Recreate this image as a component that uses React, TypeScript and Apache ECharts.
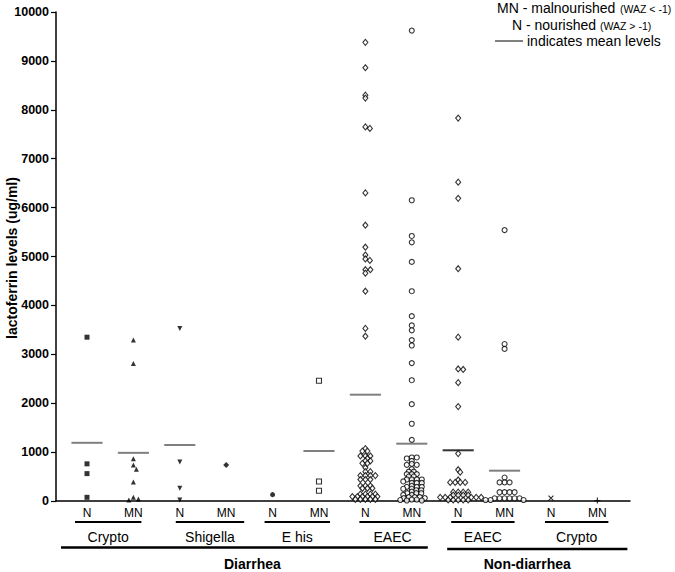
import React, { useEffect, useRef } from "react";
import * as echarts from "echarts";

// ---------- data ----------
const tickLabels = ["N", "MN", "N", "MN", "N", "MN", "N", "MN", "N", "MN", "N", "MN"];
const pathogenLabels = ["Crypto", "Shigella", "E his", "EAEC", "EAEC", "Crypto"];
const conditionLabels = ["Diarrhea", "Non-diarrhea"];
const yTicks = [0, 1000, 2000, 3000, 4000, 5000, 6000, 7000, 8000, 9000, 10000];

const diarrheaCryptoN = [3350, 760, 560, 75];
const diarrheaCryptoMN = [3290, 2810, 865, 736, 648, 389, 75, 41, 20];
const diarrheaShigellaN = [3530, 800, 260, 20];
const diarrheaShigellaMN = [736];
const diarrheaEhisN = [130];
const diarrheaEhisMN = [2460, 400, 210];
const diarrheaEaecN = [
  9380, 8860, 8300, 8240, 7650, 7620, 6300, 5640, 5190, 5030, 4950, 4920, 4730, 4730, 4660, 4290, 3530, 3370,
  1070, 1020, 1020, 920, 920, 920, 870, 820, 820, 770, 770, 680, 600, 600, 520, 520, 520, 520, 440, 440, 440,
  310, 310, 310, 260, 260, 260, 140, 140, 140, 140, 90, 90, 90, 90, 90, 90, 35, 35, 35, 35, 35,
];
const diarrheaEaecMN = [
  9620, 6150, 5420, 5290, 4890, 4290, 3780, 3590, 3490, 3290, 3180, 2820, 2470, 1980, 1580, 1250,
  890, 890, 870, 820, 760, 740, 740, 650, 600, 600, 550, 550, 550, 500, 500, 440, 440, 440, 440, 400,
  370, 370, 370, 310, 290, 290, 290, 250, 250, 220, 220, 190, 160, 160, 160, 125, 125, 80, 80, 80, 60, 60,
  30, 30, 20, 10, 10,
];
const nonDiarrheaEaecN = [
  7830, 6520, 6190, 4750, 3350, 2700, 2690, 2420, 1930, 970, 640, 590, 430, 380, 380, 380, 380,
  180, 180, 180, 180, 120, 120, 120, 120, 75, 75, 75, 75, 75, 75, 20, 20, 20, 20, 20,
];
const nonDiarrheaEaecMN = [5540, 3210, 3110, 480, 380, 380, 380, 180, 180, 180, 180, 55, 55, 55, 55, 55, 55, 20, 20, 20];
const nonDiarrheaCryptoN = [60];
const nonDiarrheaCryptoMN = [8];

const meanLevels: (number | null)[] = [1190, 985, 1145, null, null, 1022, 2174, 1172, 1037, 620, null, null];

const groupValues = [
  diarrheaCryptoN, diarrheaCryptoMN, diarrheaShigellaN, diarrheaShigellaMN, diarrheaEhisN, diarrheaEhisMN,
  diarrheaEaecN, diarrheaEaecMN, nonDiarrheaEaecN, nonDiarrheaEaecMN, nonDiarrheaCryptoN, nonDiarrheaCryptoMN,
];

// ---------- styles / layout ----------
const FONT = 'Arial, "Liberation Sans", Helvetica, sans-serif';
type Sym = { symbol: string; size: number | number[]; open: boolean; rotate?: number; dx: number; dy: number; stroke?: boolean };
const symbolStyles: Sym[] = [
  { symbol: "rect", size: 5, open: false, dx: 5, dy: 5 },
  { symbol: "triangle", size: 5, open: false, dx: 5, dy: 5 },
  { symbol: "triangle", size: 5, open: false, rotate: 180, dx: 5, dy: 5 },
  { symbol: "diamond", size: 6, open: false, dx: 5, dy: 5 },
  { symbol: "circle", size: 5, open: false, dx: 5, dy: 5 },
  { symbol: "rect", size: 5, open: true, dx: 5, dy: 5 },
  { symbol: "diamond", size: [5, 6], open: true, dx: 5, dy: 2.6 },
  { symbol: "circle", size: 5, open: true, dx: 5, dy: 2.6 },
  { symbol: "diamond", size: [5, 6], open: true, dx: 5, dy: 2.6 },
  { symbol: "circle", size: 5, open: true, dx: 5, dy: 2.6 },
  { symbol: "path://M0,0L10,10M10,0L0,10", size: 5, open: true, stroke: true, dx: 5, dy: 5 },
  { symbol: "path://M5,0L5,10M0,5L10,5", size: 6, open: true, stroke: true, dx: 5, dy: 5 },
];
const meanColors = ["#7f7f7f", "#7f7f7f", "#7f7f7f", "#7f7f7f", "#7f7f7f", "#7f7f7f", "#7f7f7f", "#7f7f7f", "#333", "#7f7f7f", "#7f7f7f", "#7f7f7f"];
const underlinePad = [[-12, 8], [-4, 18], [-8, 11], [-6, 14], [-7, 10], [-6, 11]];
const bigLinePad = [[-26, 16], [-11, 30]];
const bigTextShift = [8, -10];

// beeswarm layout in pixel space (elliptical collision), returns x offsets in data units
function swarm(values: number[], ySc: number, xSc: number, rx: number, ry: number): number[] {
  const idx = values.map((_, i) => i).sort((a, b) => values[b] - values[a]);
  const placed: { x: number; y: number }[] = [];
  const out: number[] = new Array(values.length).fill(0);
  for (const i of idx) {
    const y = values[i] * ySc;
    let dx = 0;
    for (let k = 0; k < 600; k++) {
      const cand = (k % 2 === 1 ? 1 : -1) * Math.ceil(k / 2) * 0.5;
      const ok = placed.every((p) => ((p.x - cand) / rx) ** 2 + ((p.y - y) / ry) ** 2 >= 0.999);
      if (ok) {
        dx = cand === 0 ? 0 : cand;
        break;
      }
    }
    placed.push({ x: dx, y });
    out[i] = dx / xSc;
  }
  return out;
}

export default function App() {
  const ref = useRef<HTMLDivElement>(null);
  useEffect(() => {
    if (!ref.current) return;
    const chart = echarts.init(ref.current, undefined, { renderer: "svg" });
    const xMin = -0.668;
    const xMax = 11.703;
    const base: any = {
      animation: false,
      backgroundColor: "#fff",
      grid: { left: 56, right: 45, top: 12, bottom: 71 },
      xAxis: {
        type: "value",
        min: xMin,
        max: xMax,
        axisLine: { show: true, onZero: false, lineStyle: { color: "#000", width: 1.5 } },
        axisTick: { show: false },
        axisLabel: { show: false },
        splitLine: { show: false },
      },
      yAxis: {
        type: "value",
        min: yTicks[0],
        max: yTicks[yTicks.length - 1],
        interval: 1000,
        axisLine: { show: true, onZero: false, lineStyle: { color: "#000", width: 1.5 } },
        axisTick: { show: true, length: 5, lineStyle: { color: "#000", width: 1.2 } },
        axisLabel: {
          color: "#000",
          fontFamily: FONT,
          fontWeight: "bold",
          fontSize: 12.5,
          margin: 7,
          formatter: (v: number) => String(v),
        },
        splitLine: { show: false },
      },
      series: [],
    };
    chart.setOption(base);

    const p00 = chart.convertToPixel({ gridIndex: 0 }, [0, 0]) as number[];
    const p11 = chart.convertToPixel({ gridIndex: 0 }, [1, 1000]) as number[];
    const xSc = p11[0] - p00[0];
    const ySc = (p00[1] - p11[1]) / 1000;
    const px = (x: number, y: number) => chart.convertToPixel({ gridIndex: 0 }, [x, y]) as number[];

    const series: any[] = [];
    groupValues.forEach((vals, i) => {
      const st = symbolStyles[i];
      const jit = swarm(vals, ySc, xSc, st.dx, st.dy);
      series.push({
        type: "scatter",
        data: vals.map((v, j) => [i + jit[j], v]),
        symbol: st.symbol,
        symbolSize: st.size,
        symbolRotate: st.rotate || 0,
        itemStyle: st.open
          ? { color: st.stroke ? "rgba(0,0,0,0)" : "#fff", borderColor: "#000", borderWidth: st.stroke ? 1.2 : 1.1 }
          : { color: "#000" },
        z: 3,
      });
    });
    meanLevels.forEach((m, i) => {
      if (m == null) return;
      series.push({
        type: "line",
        data: [[i - 0.335, m], [i + 0.335, m]],
        symbol: "none",
        lineStyle: { color: meanColors[i], width: 2 },
        z: 2,
      });
    });

    const g: any[] = [];
    const yAxisPx = p00[1];
    tickLabels.forEach((t, i) => {
      g.push({
        type: "text",
        x: px(i, 0)[0],
        y: yAxisPx + 12,
        style: { text: t, fontFamily: FONT, fontSize: 12, fill: "#000", textAlign: "center", textVerticalAlign: "middle" },
      });
    });
    pathogenLabels.forEach((t, k) => {
      const xl = px(2 * k, 0)[0] + underlinePad[k][0];
      const xr = px(2 * k + 1, 0)[0] + underlinePad[k][1];
      g.push({ type: "line", shape: { x1: xl, y1: yAxisPx + 21, x2: xr, y2: yAxisPx + 21 }, style: { stroke: "#000", lineWidth: 2 } });
      g.push({
        type: "text",
        x: (xl + xr) / 2,
        y: yAxisPx + 36,
        style: { text: t, fontFamily: FONT, fontSize: 14, fill: "#000", textAlign: "center", textVerticalAlign: "middle" },
      });
    });
    const condRanges = [[0, 7], [8, 11]];
    conditionLabels.forEach((t, k) => {
      const xl = px(condRanges[k][0], 0)[0] + bigLinePad[k][0];
      const xr = px(condRanges[k][1], 0)[0] + bigLinePad[k][1];
      const ly = yAxisPx + 46.5 + k * 1.5;
      g.push({ type: "line", shape: { x1: xl, y1: ly, x2: xr, y2: ly }, style: { stroke: "#000", lineWidth: 2.5 } });
      g.push({
        type: "text",
        x: (xl + xr) / 2 + bigTextShift[k],
        y: 563.5,
        style: { text: t, fontFamily: FONT, fontSize: 14, fontWeight: "bold", fill: "#000", textAlign: "center", textVerticalAlign: "middle" },
      });
    });
    g.push({
      type: "text",
      x: 12,
      y: 258,
      rotation: Math.PI / 2,
      style: { text: "lactoferrin levels (ug/ml)", fontFamily: FONT, fontSize: 14, fontWeight: "bold", fill: "#000", textAlign: "center", textVerticalAlign: "middle" },
    });
    const note = (text: string, x: number, y: number, size: number) => ({
      type: "text",
      x,
      y,
      style: { text, fontFamily: FONT, fontSize: size, fill: "#000", textAlign: "left", textVerticalAlign: "middle" },
    });
    g.push(note("MN - malnourished", 497, 8, 14));
    g.push(note("(WAZ < -1)", 620, 9, 10.5));
    g.push(note("N - nourished", 512, 25, 14));
    g.push(note("(WAZ > -1)", 600, 26, 10.5));
    g.push({ type: "line", shape: { x1: 495, y1: 41, x2: 523, y2: 41 }, style: { stroke: "#000", lineWidth: 1 } });
    g.push(note("indicates mean levels", 527, 41, 14));

    chart.setOption({ series, graphic: g });
    return () => chart.dispose();
  }, []);
  return <div ref={ref} style={{ position: "fixed", left: 0, top: 0, width: 675, height: 572, background: "#fff" }} />;
}
